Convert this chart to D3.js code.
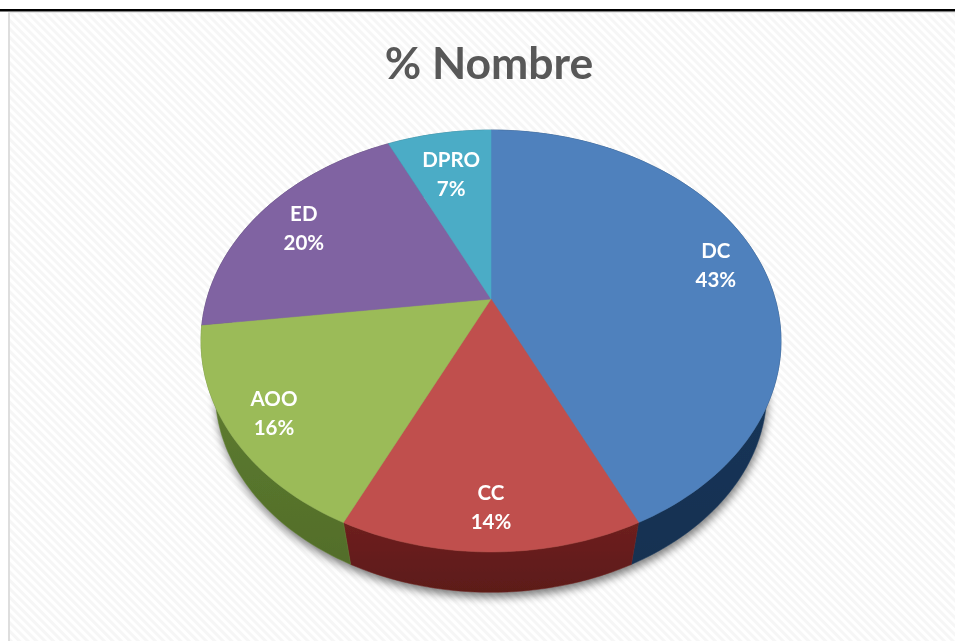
<!DOCTYPE html>
<html>
<head>
<meta charset="utf-8">
<script src="https://cdn.jsdelivr.net/npm/d3@7"></script>
<style>
  html, body { margin: 0; padding: 0; background: #fff; overflow: hidden; }
  text { font-family: Lato, "Open Sans", sans-serif; font-weight: 700; }
</style>
</head>
<body>
<div id="visualization"></div>
<script>
const categories = ['DC', 'CC', 'AOO', 'ED', 'DPRO'];
const percents = [43, 14, 16, 20, 7];
const topColors = ['#4f81bd', '#c0504d', '#9bbb59', '#8064a2', '#4bacc6'];
const wallColors = ['#193a61', '#6e201e', '#628232', '#4a3a60', '#2a6a7a'];
const labelRadius = [0.84, 0.845, 0.85, 0.81, 0.735];

const width = 955;
const height = 641;

const svg = d3.select('#visualization')
    .append('svg')
    .attr('width', width)
    .attr('height', height);

const defs = svg.append('defs');

// Hatched sheet behind the chart
const hatch = defs.append('pattern')
    .attr('id', 'hatch')
    .attr('width', 6)
    .attr('height', 6)
    .attr('patternUnits', 'userSpaceOnUse')
    .attr('patternTransform', 'rotate(45)');
hatch.append('rect').attr('width', 6).attr('height', 6).attr('fill', '#ffffff');
hatch.append('rect').attr('width', 6).attr('height', 3).attr('fill', '#f6f6f6');

defs.append('filter')
    .attr('id', 'shadow')
    .attr('x', '-10%').attr('y', '-10%').attr('width', '120%').attr('height', '120%')
    .append('feGaussianBlur')
    .attr('stdDeviation', 4);

// The reference is a slightly soft screenshot
defs.append('filter')
    .attr('id', 'soft')
    .attr('x', '-5%').attr('y', '-5%').attr('width', '110%').attr('height', '110%')
    .append('feGaussianBlur')
    .attr('stdDeviation', 0.55);

svg.append('rect').attr('width', width).attr('height', height).attr('fill', '#fff');
svg.append('rect').attr('x', 9).attr('y', 12).attr('width', width - 9).attr('height', height - 12)
    .attr('fill', 'url(#hatch)');
svg.append('rect').attr('x', 8).attr('y', 12).attr('width', 2).attr('height', height - 12).attr('fill', '#dedede');
svg.append('rect').attr('x', 8).attr('y', 12).attr('width', width - 8).attr('height', 1).attr('fill', '#e6e6e6');
svg.append('rect').attr('x', 0).attr('y', 9).attr('width', width).attr('height', 2.5).attr('fill', '#000');

svg.append('text')
    .attr('x', 489)
    .attr('y', 79)
    .attr('text-anchor', 'middle')
    .attr('font-size', 44.5)
    .attr('fill', '#595959')
    .attr('filter', 'url(#soft)')
    .text('% Nombre');

// Tilted disc: unit circle through a perspective projection
const cx = 491;
const cy = 299;
const k = -0.199;
const a = 202.6;
const b = 284.2;

function project(angle, r) {
    const u = r * Math.sin(angle);
    const v = -r * Math.cos(angle);
    const w = 1 + k * v;
    return [cx + b * u / w, cy + a * v / w];
}

// The bottom edge shrinks toward a vanishing point below the pie
const vanishY = 1376;
const depthScale = 0.951;

function lower(p) {
    return [cx + (p[0] - cx) * depthScale, vanishY + (p[1] - vanishY) * depthScale];
}

function rim(start, end) {
    const steps = Math.max(2, Math.ceil((end - start) * 40));
    return d3.range(steps + 1).map(i => project(start + (end - start) * i / steps, 1));
}

const line = d3.line();
const arcs = d3.pie().sort(null)(percents);

// Soft shadow under the pie
svg.append('path')
    .attr('d', line(rim(0, Math.PI * 2).map(lower)) + 'Z')
    .attr('transform', 'translate(1,5)')
    .attr('fill', '#000')
    .attr('opacity', 0.5)
    .attr('filter', 'url(#shadow)');

const chart = svg.append('g').attr('filter', 'url(#soft)');

// Side walls
arcs.forEach((d, i) => {
    const id = `wall-${i}`;
    const grad = defs.append('linearGradient')
        .attr('id', id).attr('x1', 0).attr('y1', 0).attr('x2', 0).attr('y2', 1);
    grad.append('stop').attr('offset', 0).attr('stop-color', wallColors[i]);
    grad.append('stop').attr('offset', 1).attr('stop-color', d3.color(wallColors[i]).darker(0.5));
});

chart.selectAll('path.wall')
    .data(arcs)
    .join('path')
    .attr('class', 'wall')
    .attr('d', d => {
        const upper = rim(d.startAngle, d.endAngle);
        return line(upper.concat(upper.map(lower).reverse())) + 'Z';
    })
    .attr('fill', (d, i) => `url(#wall-${i})`)
    .attr('stroke', (d, i) => wallColors[i])
    .attr('stroke-width', 0.5);

// Top face
chart.selectAll('path.slice')
    .data(arcs)
    .join('path')
    .attr('class', 'slice')
    .attr('d', d => line([project(0, 0)].concat(rim(d.startAngle, d.endAngle))) + 'Z')
    .attr('fill', (d, i) => topColors[i])
    .attr('stroke', (d, i) => topColors[i])
    .attr('stroke-width', 0.5);

// Labels
const labels = chart.selectAll('g.label')
    .data(arcs)
    .join('g')
    .attr('class', 'label')
    .attr('transform', (d, i) => {
        const p = project((d.startAngle + d.endAngle) / 2, labelRadius[i]);
        return `translate(${p[0]},${p[1]})`;
    })
    .attr('fill', '#fff')
    .attr('font-size', 20.5)
    .attr('text-anchor', 'middle');

labels.append('text').attr('y', -5).text((d, i) => categories[i]);
labels.append('text').attr('y', 24).text((d, i) => `${percents[i]}%`);
</script>
</body>
</html>
